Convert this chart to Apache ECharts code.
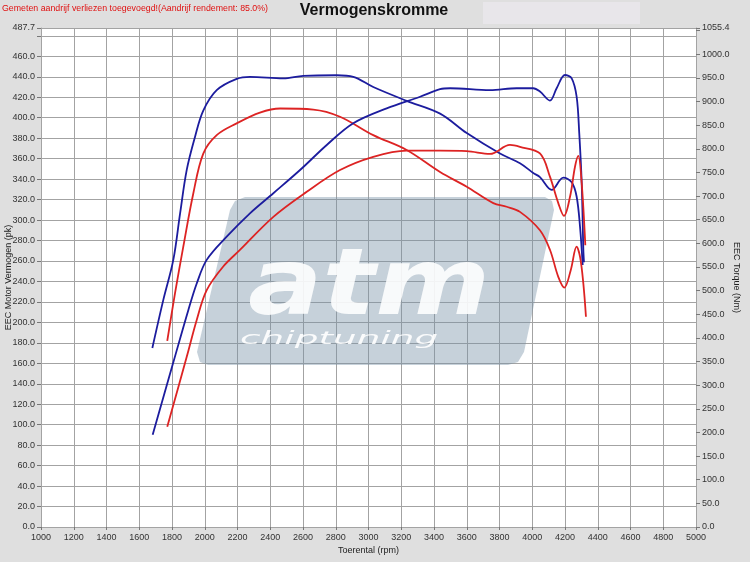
<!DOCTYPE html>
<html><head><meta charset="utf-8">
<script src="https://cdn.jsdelivr.net/npm/echarts@6/dist/echarts.min.js"></script>
<style>html,body{margin:0;padding:0;background:#dfdfdf}#c{width:750px;height:562px}</style>
</head><body><div id="c"></div>
<script>
// Axis setup
const rpmMin = 1000, rpmMax = 5000, rpmStep = 200;
const pkMax = 487.7, pkStep = 20;
const nmMax = 1055.4, nmStep = 50;

// Tuned power (blue, pk)
const bluePowerRpm = [1680,1747,1808,1849,1890,1940,1991,2073,2195,2276,2480,2602,2806,2907,3029,3233,3437,3600,3803,3925,4006,4047,4119,4190,4241,4271,4292,4308];
const bluePowerPk  = [175,222,261,306,349,381,407,427,438,440,438.5,441,441.5,440,430,416.5,404,385,365,355.5,346,342,329.5,341.5,337,323,293,256];

// Stock power (red, pk)
const redPowerRpm = [1771,1818,1869,1930,1991,2073,2195,2337,2460,2663,2826,3029,3233,3437,3600,3762,3844,3925,4047,4108,4159,4196,4235,4271,4292,4312,4328];
const redPowerPk  = [182,228,274,326,365,383,394.5,405,409,408,401,383,368.5,347,332.5,316.5,313,308,290,271,244.5,234,251,274,264,238,205.5];

// Tuned torque (blue, Nm)
const blueTorqueRpm = [1682,1812,1900,1951,2012,2134,2276,2419,2582,2745,2907,3111,3315,3437,3498,3742,3905,4006,4047,4108,4149,4200,4241,4271,4287,4302,4312,4316];
const blueTorqueNm  = [195,353,459,515,565,614,663.5,706,755,808,854,885.5,910,926,928,924,928,928,921,902,928,956,949,910,833,727,586,560];

// Stock torque (red, Nm)
const redTorqueRpm = [1771,1890,1951,2012,2113,2215,2419,2623,2826,3029,3233,3437,3600,3742,3864,3925,4047,4108,4159,4194,4231,4261,4281,4302,4324];
const redTorqueNm  = [212,360,438,501,551,586,656,709,755,783,796,796,795,789,808,804,790,741,685,658,699,762,785,727,596];

const zip = (a, b) => a.map((v, i) => [v, b[i]]);

const BLUE = '#1c1c9e', RED = '#dd2323', GRIDC = '#a3a3a3';
const chart = echarts.init(document.getElementById('c'), null, {renderer: 'canvas'});

const mk = (name, data, color, yIdx) => ({
  name, type: 'line', data, yAxisIndex: yIdx, smooth: 0.35, showSymbol: false,
  lineStyle: {color, width: 1.8}, itemStyle: {color}, z: 5, animation: false
});

chart.setOption({
  backgroundColor: '#dfdfdf',
  animation: false,
  textStyle: {fontFamily: '"Liberation Sans", Arial, sans-serif'},
  grid: {left: 41, right: 54, top: 28, bottom: 35, containLabel: false, outerBoundsMode: 'none',
    show: true, backgroundColor: '#ffffff', borderWidth: 0},
  graphic: [
    {type: 'rect', shape: {x: 483, y: 2, width: 157, height: 22}, style: {fill: '#e8e6ea'}, z: 0},
    {type: 'text', x: 374, y: 11, style: {text: 'Vermogenskromme', font: 'bold 16px "Liberation Sans", Arial, sans-serif', fill: '#111', align: 'center', verticalAlign: 'middle'}},
    {type: 'text', x: 2, y: 9, style: {text: 'Gemeten aandrijf verliezen toegevoegd!(Aandrijf rendement: 85.0%)', font: '8.8px "Liberation Sans", Arial, sans-serif', fill: '#e01010', align: 'left', verticalAlign: 'middle'}},
    {type: 'polygon', z: 3, shape: {points: [[245,197],[545,197],[552,201],[554,210],[524,352],[518,362],[508,365],[208,365],[200,362],[197,352],[230,210],[235,201]]},
      style: {fill: 'rgba(120,145,168,0.42)'}},
    {type: 'text', z: 4, x: 248, y: 290, scaleX: 1.2, style: {text: 'atm', font: 'italic bold 92px "DejaVu Sans", sans-serif', fill: 'rgba(255,255,255,0.88)', align: 'left', verticalAlign: 'middle'}},
    {type: 'text', z: 4, x: 240, y: 340, scaleX: 2.2, style: {text: 'chiptuning', font: 'italic 17px "DejaVu Sans", sans-serif', fill: 'rgba(255,255,255,0.9)', align: 'left', verticalAlign: 'middle'}}
  ],
  xAxis: {
    type: 'value', min: rpmMin, max: rpmMax, interval: rpmStep,
    axisLine: {show: true, lineStyle: {color: GRIDC}},
    axisTick: {show: true, length: 3, lineStyle: {color: '#777'}},
    axisLabel: {fontSize: 9, color: '#333', margin: 6, formatter: v => String(v)},
    splitLine: {show: true, lineStyle: {color: GRIDC, width: 1}},
    name: 'Toerental (rpm)', nameLocation: 'middle', nameGap: 19, nameMoveOverlap: false,
    nameTextStyle: {fontSize: 9, color: '#222'}
  },
  yAxis: [
    {
      type: 'value', min: 0, max: pkMax, interval: pkStep, position: 'left',
      axisLine: {show: true, lineStyle: {color: GRIDC}},
      axisTick: {show: true, length: 4, lineStyle: {color: '#777'}},
      axisLabel: {fontSize: 9, color: '#333', margin: 6,
        formatter: v => (Math.abs(v - 480) < 0.01 ? '' : v.toFixed(1))},
      splitLine: {show: true, lineStyle: {color: GRIDC, width: 1}},
      name: 'EEC Motor Vermogen (pk)', nameLocation: 'middle', nameGap: 28, nameMoveOverlap: false,
      nameTextStyle: {fontSize: 9, color: '#222'}
    },
    {
      type: 'value', min: 0, max: nmMax, interval: nmStep, position: 'right',
      axisLine: {show: true, lineStyle: {color: GRIDC}},
      axisTick: {show: true, length: 4, lineStyle: {color: '#777'}},
      axisLabel: {fontSize: 9, color: '#333', margin: 6,
        formatter: v => (Math.abs(v - 1050) < 0.01 ? '' : v.toFixed(1))},
      splitLine: {show: false},
      name: 'EEC Torque (Nm)', nameLocation: 'middle', nameGap: 36, nameRotate: -90, nameMoveOverlap: false,
      nameTextStyle: {fontSize: 9, color: '#222'}
    }
  ],
  series: [
    mk('Vermogen getuned', zip(bluePowerRpm, bluePowerPk), BLUE, 0),
    mk('Vermogen origineel', zip(redPowerRpm, redPowerPk), RED, 0),
    mk('Koppel getuned', zip(blueTorqueRpm, blueTorqueNm), BLUE, 1),
    mk('Koppel origineel', zip(redTorqueRpm, redTorqueNm), RED, 1)
  ]
});
</script>
</body></html>
